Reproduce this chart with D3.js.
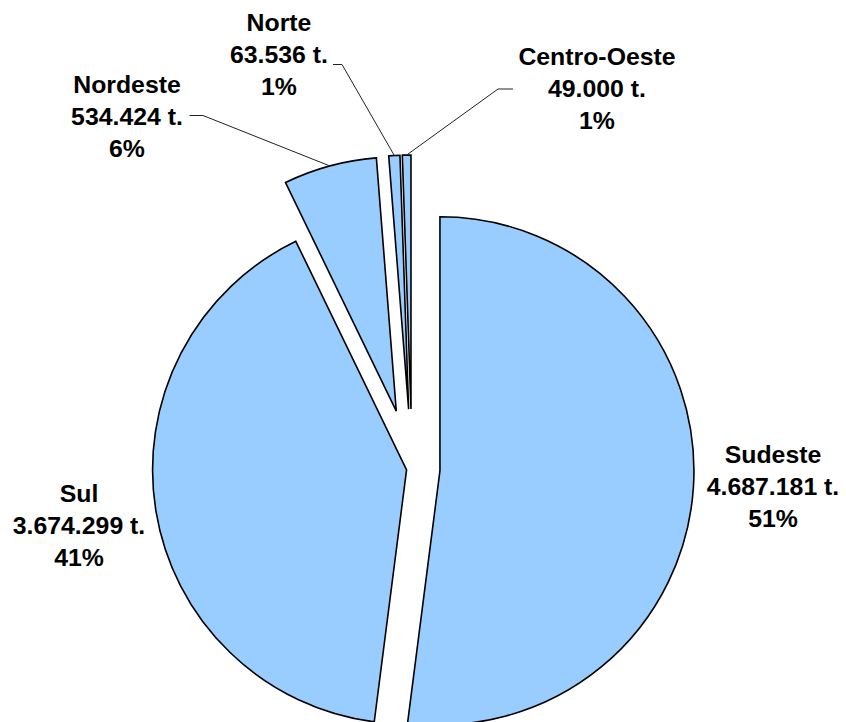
<!DOCTYPE html>
<html>
<head>
<meta charset="utf-8">
<script src="https://cdn.jsdelivr.net/npm/d3@7"></script>
<style>
  body { margin: 0; background: #fff; }
  text { font-family: "Liberation Sans", Arial, sans-serif; font-weight: bold; fill: #000; }
</style>
</head>
<body>
<div id="chart"></div>
<script>
// data
var regions = ["Sudeste", "Sul", "Nordeste", "Norte", "Centro-Oeste"];
var tons = [4687181, 3674299, 534424, 63536, 49000];
var pctLabels = ["51%", "41%", "6%", "1%", "1%"];

// layout
var width = 846, height = 722;
var cx = 412, cy = 469, radius = 254;
var explode = [28, 5.5, 60, 60, 60];
// label anchor (center x, first baseline) and leader elbow (null = no leader)
var labelPos = [[773, 463], [79, 502], [127, 92.5], [279, 31], [597, 65]];
var elbows = [null, null, [[189.5, 115.5], [203, 115.5]], [[333, 64.5], [342, 64.5]], [[513, 89], [498, 89]]];

var fmt = d3.formatLocale({decimal: ",", thousands: ".", grouping: [3], currency: ["", ""]}).format(",d");

var svg = d3.select("#chart").append("svg")
    .attr("width", width).attr("height", height);

var pie = d3.pie().sort(null).value(function(d) { return d; });
var arcs = pie(tons);
var arc = d3.arc().innerRadius(0).outerRadius(radius);

function dir(a) { return [Math.sin(a), -Math.cos(a)]; }

var g = svg.append("g");

g.selectAll("path")
  .data(arcs)
  .enter()
  .append("path")
  .attr("d", arc)
  .attr("transform", function(d, i) {
      var a = (d.startAngle + d.endAngle) / 2, v = dir(a);
      return "translate(" + (cx + v[0] * explode[i]) + "," + (cy + v[1] * explode[i]) + ")";
  })
  .attr("fill", "#99ccff")
  .attr("stroke", "#000")
  .attr("stroke-width", 1.6)
  .attr("stroke-linejoin", "miter");

// leader lines
arcs.forEach(function(d, i) {
    if (!elbows[i]) return;
    var a = (d.startAngle + d.endAngle) / 2, v = dir(a);
    var end = [cx + v[0] * (explode[i] + radius), cy + v[1] * (explode[i] + radius)];
    var pts = elbows[i].concat([end]);
    svg.append("path")
      .attr("d", d3.line()(pts))
      .attr("fill", "none")
      .attr("stroke", "#222")
      .attr("stroke-width", 1);
});

// labels
var lineH = 32.2;
regions.forEach(function(name, i) {
    var lines = [name, fmt(tons[i]) + " t.", pctLabels[i]];
    var t = svg.append("g")
      .attr("transform", "translate(" + labelPos[i][0] + "," + labelPos[i][1] + ") scale(1.08,1)");
    lines.forEach(function(s, k) {
        t.append("text")
          .attr("x", 0)
          .attr("y", k * lineH)
          .attr("text-anchor", "middle")
          .attr("font-size", "23px")
          .text(s);
    });
});
</script>
</body>
</html>
